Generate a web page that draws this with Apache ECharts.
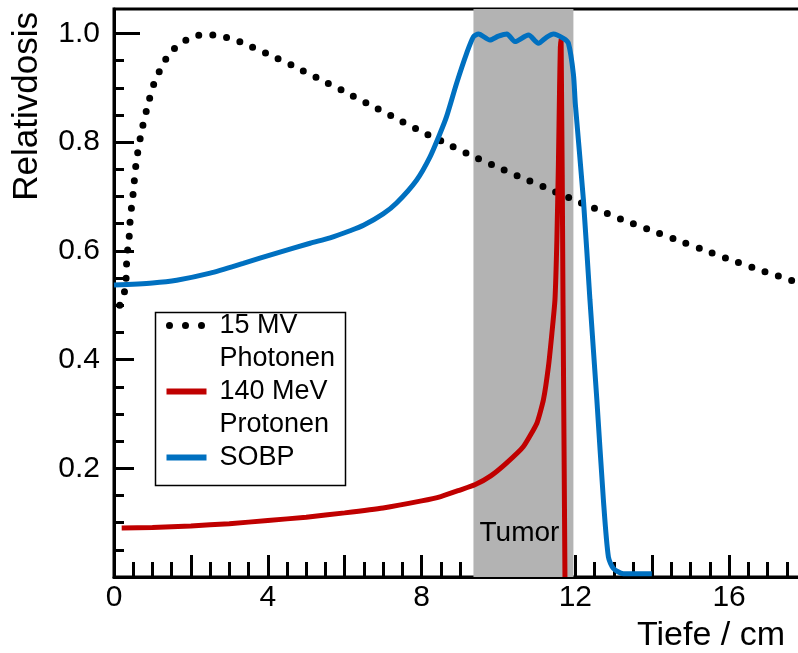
<!DOCTYPE html>
<html>
<head>
<meta charset="utf-8">
<script src="https://cdn.jsdelivr.net/npm/echarts@6/dist/echarts.min.js"></script>
<style>
  html, body { margin: 0; padding: 0; background: #fff; }
  #chart { width: 798px; height: 653px; }
</style>
</head>
<body>
<div id="chart"></div>
<script>
// depth (cm) / relative dose pairs
const photonen = [
  [0.15, 0.50], [0.29, 0.53], [0.33, 0.58], [0.36, 0.605], [0.40, 0.63], [0.42, 0.656],
  [0.46, 0.683], [0.50, 0.707], [0.57, 0.758], [0.69, 0.81], [0.85, 0.86], [1.05, 0.91],
  [1.20, 0.933], [1.37, 0.955], [1.61, 0.975], [1.91, 0.989], [2.24, 0.997], [2.61, 0.997],
  [2.96, 0.992], [3.30, 0.984], [3.97, 0.963], [4.64, 0.941], [5.29, 0.918], [5.94, 0.895],
  [6.57, 0.872], [7.22, 0.848], [7.87, 0.824], [8.54, 0.801], [9.19, 0.779], [9.85, 0.758],
  [10.50, 0.738], [11.20, 0.717], [11.86, 0.697], [12.51, 0.678], [13.20, 0.658], [13.88, 0.640],
  [14.60, 0.621], [15.30, 0.603], [15.94, 0.586], [16.63, 0.569], [17.65, 0.545], [18.0, 0.537]
];
const protonen = [
  [0.2, 0.090], [1.0, 0.091], [2.0, 0.094], [3.0, 0.098], [4.0, 0.104], [5.0, 0.110],
  [6.0, 0.118], [7.0, 0.127], [8.0, 0.140], [8.5, 0.148], [9.0, 0.160], [9.4, 0.170],
  [9.8, 0.186], [10.2, 0.209], [10.65, 0.240], [11.0, 0.283], [11.17, 0.326], [11.3, 0.387],
  [11.39, 0.448], [11.47, 0.51], [11.52, 0.62], [11.56, 0.76], [11.59, 0.90], [11.61, 0.975],
  [11.63, 0.99], [11.68, 0.50], [11.73, 0.0]
];
const sobp = [
  [0.0, 0.537], [1.0, 0.541], [1.63, 0.546], [2.5, 0.559], [3.36, 0.577], [4.23, 0.596],
  [5.1, 0.614], [5.62, 0.624], [6.14, 0.637], [6.49, 0.647], [7.0, 0.668], [7.35, 0.688],
  [7.87, 0.73], [8.22, 0.773], [8.48, 0.816], [8.65, 0.847], [8.91, 0.908], [9.17, 0.963],
  [9.35, 0.994], [9.48, 0.999], [9.78, 0.988], [10.0, 0.995], [10.22, 0.999], [10.43, 0.985],
  [10.78, 0.997], [11.04, 0.982], [11.25, 0.993], [11.43, 0.999], [11.69, 0.991], [11.82, 0.982],
  [11.95, 0.925], [12.0, 0.87], [12.21, 0.694], [12.38, 0.51], [12.56, 0.326], [12.73, 0.142],
  [12.86, 0.037], [12.99, 0.016], [13.25, 0.006], [13.99, 0.006]
];
const tumorRange = [9.35, 11.95];

const xLabelValues = [0, 4, 8, 12, 16];
const xMajorTicks = [2, 4, 6, 8, 10, 12, 14, 16];
const xMinorTicks = [0.5, 1, 1.5, 2.5, 3, 3.5, 4.5, 5, 5.5, 6.5, 7, 7.5, 8.5, 9, 9.5, 10.5, 11, 11.5,
  12.5, 13, 13.5, 14.5, 15, 15.5, 16.5, 17, 17.5];
const yLabelValues = [0.2, 0.4, 0.6, 0.8, 1.0];
const yMajorTicks = [0.2, 0.4, 0.6, 0.8];
const yTopTick = [1.0];
const yMinorTicks = [0.05, 0.1, 0.15, 0.25, 0.3, 0.35, 0.45, 0.5, 0.55, 0.65, 0.7, 0.75, 0.85, 0.9, 0.95];

const FONT = 'Liberation Sans, Arial, sans-serif';
const X_MAX = 18;
const Y_MAX = 1.045;

let chart = echarts.init(document.getElementById('chart'));

function tickAxis(values, len, extra) {
  return Object.assign({
    type: 'value',
    gridIndex: 0,
    axisLine: { show: false },
    axisTick: { show: true, inside: true, length: len, customValues: values, lineStyle: { color: '#000', width: 3 } },
    axisLabel: { show: false },
    splitLine: { show: false }
  }, extra);
}

let option = {
  animation: false,
  backgroundColor: '#fff',
  textStyle: { fontFamily: FONT },
  grid: {
    left: 114, right: -8, top: 9, bottom: 76,
    show: true, borderColor: '#000', borderWidth: 3,
    outerBoundsMode: 'none'
  },
  xAxis: [
    {
      type: 'value', min: 0, max: X_MAX, position: 'bottom',
      axisLine: { show: true, lineStyle: { color: '#000', width: 3 } },
      axisTick: { show: true, inside: true, length: 22, customValues: xMajorTicks, lineStyle: { color: '#000', width: 3 } },
      axisLabel: { customValues: xLabelValues, fontSize: 30, color: '#000', margin: 6, fontFamily: FONT },
      splitLine: { show: false },
      name: 'Tiefe / cm', nameLocation: 'end', nameGap: -21, nameMoveOverlap: false,
      nameTextStyle: { fontSize: 34, color: '#000', align: 'right', verticalAlign: 'top', lineHeight: 34, padding: [42, 0, 0, 0], fontFamily: FONT }
    },
    tickAxis(xMinorTicks, 15, { min: 0, max: X_MAX, position: 'bottom' })
  ],
  yAxis: [
    {
      type: 'value', min: 0, max: Y_MAX, position: 'left',
      axisLine: { show: true, lineStyle: { color: '#000', width: 3 } },
      axisTick: { show: true, inside: true, length: 20, customValues: yMajorTicks, lineStyle: { color: '#000', width: 3 } },
      axisLabel: { customValues: yLabelValues, fontSize: 30, color: '#000', margin: 14, fontFamily: FONT,
        formatter: v => v.toFixed(1) },
      splitLine: { show: false },
      name: 'Relativdosis', nameLocation: 'end', nameRotate: 90, nameGap: -3, nameMoveOverlap: false,
      nameTextStyle: { fontSize: 35, color: '#000', align: 'right', verticalAlign: 'bottom', lineHeight: 35, padding: [0, 0, 69, 0], fontFamily: FONT }
    },
    tickAxis(yMinorTicks, 10, { min: 0, max: Y_MAX, position: 'left' }),
    tickAxis(yTopTick, 26, { min: 0, max: Y_MAX, position: 'left' })
  ],
  legend: {
    orient: 'vertical',
    left: 163, top: 276,
    padding: 0,
    itemGap: -33,
    itemWidth: 40, itemHeight: 14,
    itemStyle: { opacity: 0 },
    // an empty first line puts the first text line level with the key line
    formatter: name => '\n' + name + (name.indexOf('\n') < 0 ? '\n ' : ''),
    textStyle: { fontSize: 27, color: '#000', lineHeight: 33, padding: [0, 0, 0, 8], fontFamily: FONT },
    data: [
      { name: '15 MV\nPhotonen', lineStyle: { width: 7, cap: 'round', type: [0, 16], dashOffset: -3 } },
      { name: '140 MeV\nProtonen', lineStyle: { width: 6 } },
      { name: 'SOBP', lineStyle: { width: 6 } }
    ]
  },
  graphic: [
    { type: 'rect', left: 153, top: 310, shape: { width: 190, height: 173 },
      style: { fill: 'none', stroke: '#000', lineWidth: 1.5 }, z: 100 }
  ],
  series: [
    {
      name: 'Tumor', type: 'line', data: [], z: 1, silent: true,
      markArea: {
        silent: true,
        itemStyle: { color: '#b3b3b3', opacity: 1 },
        label: { show: true, position: 'insideBottom', distance: 33, offset: [-4, 3], color: '#000', fontSize: 28, fontFamily: FONT },
        data: [[{ name: 'Tumor', xAxis: tumorRange[0] }, { xAxis: tumorRange[1] }]]
      }
    },
    {
      name: '15 MV\nPhotonen', type: 'line', data: photonen, symbol: 'none', smooth: 0.3, z: 3,
      itemStyle: { color: '#000' },
      lineStyle: { color: '#000', width: 7, type: [0, 14], cap: 'round' }
    },
    {
      name: '140 MeV\nProtonen', type: 'line', data: protonen, symbol: 'none', smooth: 0.15, z: 4,
      itemStyle: { color: '#c00000' },
      lineStyle: { color: '#c00000', width: 5 }
    },
    {
      name: 'SOBP', type: 'line', data: sobp, symbol: 'none', smooth: 0.25, z: 5,
      itemStyle: { color: '#0070c0' },
      lineStyle: { color: '#0070c0', width: 5 }
    }
  ]
};

chart.setOption(option);
</script>
</body>
</html>
